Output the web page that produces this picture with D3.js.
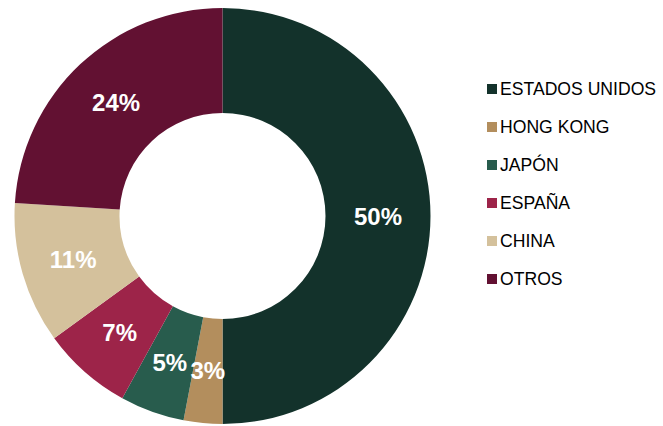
<!DOCTYPE html>
<html>
<head>
<meta charset="utf-8">
<script src="https://cdn.jsdelivr.net/npm/d3@7"></script>
<style>
  html, body { margin: 0; padding: 0; background: #ffffff; }
  svg { display: block; }
</style>
</head>
<body>
<div id="chart"></div>
<script>
// Share of total by destination (percent)
const categories = ["ESTADOS UNIDOS", "HONG KONG", "JAPÓN", "ESPAÑA", "CHINA", "OTROS"];
const shares = [50, 3, 5, 7, 11, 24];
const sliceColors = ["#13322B", "#B38E5D", "#285C4D", "#9D2449", "#D4C19C", "#621132"];

const width = 663, height = 426;
const cx = 222.5, cy = 216;
const outerR = 208, innerR = 103;

const svg = d3.select("#chart").append("svg")
  .attr("width", width)
  .attr("height", height);

svg.append("rect").attr("width", width).attr("height", height).attr("fill", "#ffffff");

const color = d3.scaleOrdinal().domain(categories).range(sliceColors);

const data = categories.map((c, i) => ({ name: c, value: shares[i] }));

const pie = d3.pie().value(d => d.value).sort(null);
const arc = d3.arc().innerRadius(innerR).outerRadius(outerR);

const g = svg.append("g").attr("transform", `translate(${cx},${cy})`);
const arcs = pie(data);

g.selectAll("path.slice")
  .data(arcs)
  .join("path")
  .attr("class", "slice")
  .attr("d", arc)
  .attr("fill", d => color(d.data.name));

g.selectAll("text.pct")
  .data(arcs)
  .join("text")
  .attr("class", "pct")
  .attr("transform", d => `translate(${arc.centroid(d)})`)
  .attr("text-anchor", "middle")
  .attr("dy", "0.36em")
  .attr("fill", "#ffffff")
  .style("font-family", "'Liberation Sans', Arial, sans-serif")
  .style("font-weight", "bold")
  .style("font-size", "24px")
  .text(d => d.data.value + "%");

// Legend
const legend = svg.append("g").attr("transform", "translate(487,89)");
const rowY = d3.scalePoint().domain(categories).range([0, 190]);

const items = legend.selectAll("g.item")
  .data(categories)
  .join("g")
  .attr("class", "item")
  .attr("transform", d => `translate(0,${rowY(d)})`);

items.append("rect")
  .attr("x", 0).attr("y", -5)
  .attr("width", 10).attr("height", 10)
  .attr("fill", d => color(d));

items.append("text")
  .attr("x", 13)
  .attr("dy", "0.36em")
  .attr("fill", "#000000")
  .style("font-family", "'Liberation Sans', Arial, sans-serif")
  .style("font-size", "17.6px")
  .text(d => d);
</script>
</body>
</html>
